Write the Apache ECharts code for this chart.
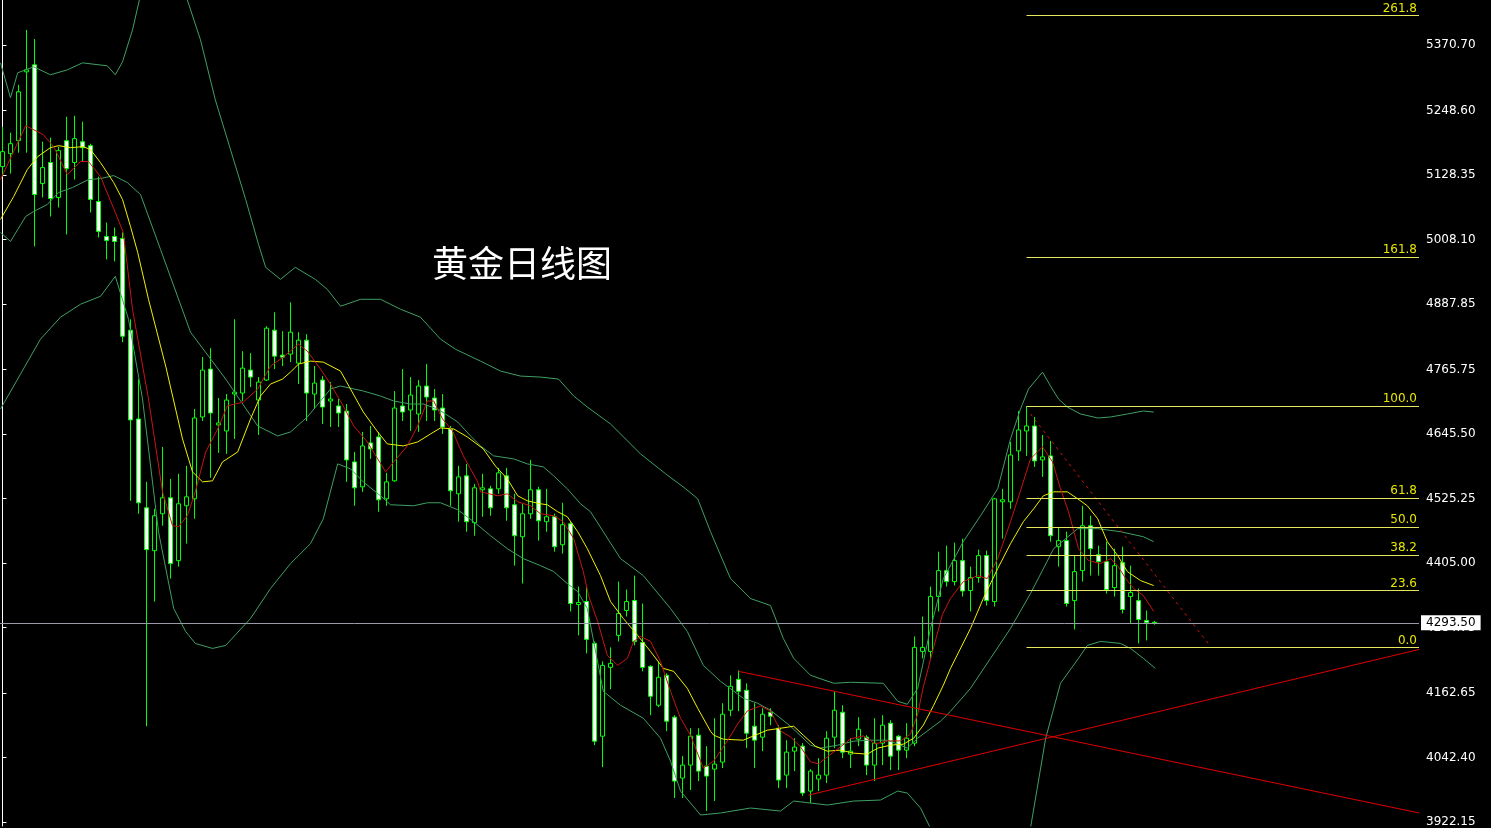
<!DOCTYPE html>
<html><head><meta charset="utf-8">
<script src="https://cdn.jsdelivr.net/npm/echarts@6/dist/echarts.min.js"></script>
<style>html,body{margin:0;padding:0;background:#000;overflow:hidden}#c{width:1491px;height:828px}</style>
</head><body><div id="c"></div>
<script>
// candles: [open, close, low, high], one per day, oldest first
const candles = [
[5143.8,5171.7,5125.2,5218.2],[5168.0,5186.6,5130.8,5207.0],[5192.2,5283.3,5169.8,5296.3],[5320.5,5324.2,5169.8,5398.6],
[5333.5,5091.7,4995.1,5381.8],[5112.2,5142.0,5086.2,5190.3],[5151.5,5084.3,5050.8,5197.8],[5086.2,5173.6,5067.6,5181.0],
[5192.2,5140.1,5017.4,5236.8],[5151.5,5196.0,5119.7,5238.7],[5190.3,5179.2,5153.3,5227.5],[5182.9,5082.5,5058.3,5186.6],
[5078.8,5023.0,5011.8,5125.2],[5013.6,5006.2,4970.9,5039.6],[5013.6,5004.3,4967.2,5030.3],[5009.9,4827.7,4816.5,5021.1],
[4838.9,4671.6,4520.9,4859.3],[4673.4,4517.2,4496.7,4747.8],[4507.9,4429.8,4100.7,4556.2],[4427.9,4493.0,4333.1,4506.0],
[4496.7,4526.5,4474.4,4621.3],[4526.5,4403.8,4375.9,4561.8],[4409.4,4515.3,4398.2,4571.1],[4511.6,4528.3,4441.0,4586.0],
[4524.6,4675.3,4487.4,4692.0],[4677.1,4764.5,4669.7,4788.7],[4766.4,4684.6,4563.7,4805.4],[4662.3,4666.0,4610.2,4712.5],
[4651.1,4708.7,4608.3,4719.9],[4719.9,4723.6,4636.2,4859.3],[4721.7,4768.2,4706.9,4799.8],[4764.5,4751.5,4732.9,4796.1],
[4708.7,4742.2,4643.6,4751.5],[4745.9,4842.6,4744.1,4846.3],[4838.9,4790.5,4766.4,4872.3],[4792.4,4788.7,4772.0,4837.0],
[4794.3,4835.2,4779.4,4890.9],[4777.5,4820.3,4738.5,4835.2],[4820.3,4721.7,4669.7,4831.5],[4719.9,4740.3,4692.0,4772.0],
[4745.9,4695.7,4664.1,4753.4],[4706.9,4710.6,4658.5,4742.2],[4697.6,4684.6,4658.5,4710.6],[4688.3,4597.1,4556.2,4701.3],
[4593.4,4545.1,4511.6,4612.0],[4546.9,4623.2,4537.6,4649.3],[4628.8,4617.6,4599.0,4660.4],[4639.9,4522.8,4500.5,4649.3],
[4524.6,4556.2,4511.6,4573.0],[4558.1,4693.8,4556.2,4725.5],[4697.6,4686.4,4669.7,4766.4],[4690.1,4718.0,4651.1,4751.5],
[4682.7,4734.8,4649.3,4745.9],[4734.8,4714.3,4669.7,4775.7],[4712.5,4690.1,4669.7,4729.2],[4693.8,4658.5,4645.5,4719.9],
[4654.8,4539.5,4511.6,4660.4],[4533.9,4565.5,4481.9,4586.0],[4567.4,4481.9,4463.3,4589.7],[4480.0,4545.1,4455.8,4552.5],
[4541.4,4545.1,4491.1,4571.1],[4543.2,4507.9,4493.0,4548.8],[4543.2,4573.0,4533.9,4582.3],[4567.4,4507.9,4483.7,4582.3],
[4513.5,4455.8,4400.0,4533.9],[4453.9,4496.7,4366.6,4515.3],[4496.7,4541.4,4487.4,4597.1],[4541.4,4483.7,4446.6,4546.9],
[4481.9,4491.1,4463.3,4543.2],[4491.1,4435.4,4426.1,4496.7],[4439.1,4476.3,4422.4,4517.2],[4478.1,4329.4,4314.6,4481.9],
[4327.6,4331.3,4270.0,4361.0],[4333.1,4262.5,4236.5,4361.0],[4255.1,4072.8,4065.4,4258.8],[4082.1,4214.1,4024.5,4221.6],
[4210.4,4217.8,4169.5,4247.6],[4270.0,4310.9,4258.8,4370.3],[4316.4,4333.1,4305.2,4355.4],[4334.9,4258.8,4251.3,4381.4],
[4256.9,4210.4,4203.0,4329.4],[4212.3,4156.5,4121.2,4214.1],[4139.8,4191.9,4136.1,4221.6],[4195.6,4110.0,4091.4,4199.3],
[4117.5,3998.4,3966.8,4121.2],[4004.0,4028.2,3966.8,4045.0],[4028.2,4082.1,3981.7,4097.0],[4084.0,4017.0,3998.4,4097.0],
[4026.3,4007.7,3942.6,4063.5],[4020.7,4030.1,3961.2,4115.6],[4033.8,4123.0,4022.6,4143.5],[4130.5,4175.1,4119.3,4195.6],
[4188.1,4165.8,4128.6,4204.8],[4167.7,4087.7,4059.8,4180.7],[4100.7,4074.7,4022.6,4143.5],[4080.3,4123.0,4054.2,4134.2],
[4126.7,4119.3,4102.6,4134.2],[4097.0,4000.3,3985.4,4102.6],[4009.6,4052.4,3985.4,4074.7],[4054.2,4061.7,4017.0,4078.4],
[4063.5,3976.1,3970.5,4069.1],[3979.8,4017.0,3957.5,4020.7],[4002.1,4009.6,3979.8,4041.2],[4009.6,4078.4,3994.7,4091.4],
[4080.3,4130.5,4059.8,4165.8],[4126.7,4052.4,4041.2,4139.8],[4048.6,4054.2,4022.6,4078.4],[4076.5,4095.1,4063.5,4117.5],
[4080.3,4028.2,4009.6,4084.0],[4028.2,4069.1,3998.4,4115.6],[4069.1,4102.6,4028.2,4121.2],[4106.3,4044.9,4018.9,4111.9],
[4082.1,4056.1,4018.9,4084.0],[4056.1,4078.4,4041.2,4106.3],[4069.1,4247.6,4063.5,4268.1],[4240.1,4247.6,4227.2,4305.2],
[4240.1,4342.4,4227.2,4361.0],[4342.4,4390.7,4314.6,4426.1],[4390.7,4370.3,4361.0,4437.2],[4370.3,4409.4,4362.9,4442.8],
[4409.4,4352.7,4342.4,4450.3],[4353.6,4377.8,4314.6,4398.2],[4377.8,4418.7,4368.4,4429.8],[4418.7,4334.9,4325.7,4428.0],
[4333.1,4524.6,4323.8,4526.5],[4519.1,4522.8,4450.3,4543.2],[4519.1,4606.4,4506.0,4630.6],[4613.9,4653.0,4595.3,4688.3],
[4651.1,4660.4,4604.6,4697.6],[4660.4,4595.3,4584.1,4677.1],[4597.1,4602.7,4565.5,4643.6],[4604.6,4455.8,4444.7,4632.5],
[4435.4,4446.6,4398.2,4470.7],[4446.6,4329.4,4323.8,4463.3],[4334.9,4388.9,4281.0,4418.7],[4390.7,4474.4,4370.3,4511.6],
[4474.4,4431.7,4381.4,4493.0],[4420.5,4407.5,4381.4,4437.2],[4407.5,4355.4,4348.0,4444.7],[4359.2,4400.0,4342.4,4431.7],
[4405.6,4318.2,4310.9,4435.4],[4342.4,4349.8,4292.2,4400.0],[4334.9,4299.6,4255.1,4357.3],[4297.8,4294.1,4260.6,4316.4],
[4294.5,4293.5,4290.0,4297.0]
];
// indicator lines: [bar index, price]
const maFast = [[-0.25,5119.7],[2.9,5220.1],[5.1,5203.4],[6.4,5181.0],[8.1,5129.0],[9.75,5153.3],[10.75,5153.3],[12.25,5125.2],[14.1,5058.3],[15.1,5021.1],[16.25,4877.9],[18.25,4710.6],[20,4537.7],[21.25,4474.4],[22,4472.6],[23.1,4493.0],[24.1,4537.7],[25.4,4612.0],[26.9,4654.8],[28.1,4697.6],[30.1,4705.0],[31.9,4729.2],[33.5,4772.0],[35.1,4788.7],[37,4812.9],[38.1,4799.8],[39.75,4766.4],[41,4738.5],[42.6,4697.6],[43.9,4660.4],[45.6,4630.6],[46.9,4599.0],[47.9,4574.8],[48.9,4593.4],[50.6,4623.2],[51.9,4660.4],[53.1,4706.9],[53.9,4706.9],[55,4673.4],[56.25,4651.1],[57.6,4604.6],[59.4,4556.2],[59.75,4537.7],[61.9,4530.2],[63.1,4533.9],[64.4,4519.1],[66,4511.6],[67.25,4496.7],[68.9,4493.0],[70.1,4481.9],[71.4,4450.3],[72.6,4388.9],[73.25,4344.3],[74.4,4295.9],[75.6,4232.7],[76.9,4214.1],[78.1,4227.2],[78.9,4258.8],[79.75,4268.1],[81,4258.8],[82.25,4221.6],[83.5,4165.8],[84.75,4115.6],[86,4084.0],[87.6,4022.6],[88.9,4035.6],[90.6,4073.3],[91.9,4104.9],[93.1,4129.1],[94.75,4138.4],[96,4129.1],[97.25,4091.9],[98.5,4080.8],[99.75,4062.2],[101,4034.3],[102,4030.6],[103.1,4043.6],[104.75,4062.2],[106,4077.1],[107.6,4082.6],[109.1,4067.8],[110.6,4073.3],[112.25,4073.3],[113.5,4086.3],[114.4,4123.5],[115.1,4173.7],[116.4,4248.1],[117.5,4309.5],[118.5,4338.7],[120.1,4370.3],[121.9,4381.4],[123.1,4375.9],[124.4,4413.1],[126,4481.9],[127.25,4539.5],[128.5,4599.0],[130,4621.3],[131.25,4593.4],[132.25,4543.2],[133.25,4500.5],[134.5,4431.7],[135.75,4409.4],[137.25,4403.8],[138.5,4413.1],[139.4,4400.0],[140.4,4375.9],[141.4,4357.3],[142.6,4344.3],[143.9,4314.6]];
const maSlow = [[-0.25,5045.3],[1.4,5088.1],[3.1,5138.3],[4.4,5162.5],[6,5179.2],[7,5182.9],[8.5,5179.2],[10.1,5181.0],[11,5175.5],[12.25,5151.3],[13.9,5114.1],[15,5082.5],[16,5032.3],[16.9,4983.9],[18.25,4896.5],[20.4,4771.9],[22.5,4636.2],[23.75,4574.8],[25,4556.2],[26.25,4558.1],[27.5,4593.4],[29.4,4612.0],[31,4673.4],[32.25,4716.2],[33.5,4738.5],[35,4747.8],[36,4760.8],[37,4775.7],[38.5,4781.3],[40.1,4779.4],[42.25,4762.7],[43.5,4729.2],[45.1,4686.4],[46.9,4649.3],[48.1,4626.9],[50.1,4623.2],[51.9,4630.6],[53.5,4645.5],[54.75,4656.7],[56.4,4654.8],[58.1,4640.0],[60.1,4617.6],[61.6,4586.0],[63.1,4561.8],[64.4,4530.2],[65.6,4520.9],[67.25,4515.3],[68.1,4513.5],[69.4,4500.5],[70.6,4491.1],[71.9,4463.3],[73.1,4431.7],[74.75,4381.4],[76,4333.1],[77.6,4301.5],[79.4,4269.9],[81,4240.1],[82.6,4208.6],[83.9,4202.9],[85.6,4171.3],[86.9,4134.2],[88.5,4091.4],[88.9,4084.0],[90.1,4076.5],[92.6,4074.7],[94.1,4084.0],[95.6,4093.3],[97.25,4096.9],[98.9,4100.7],[100.1,4084.0],[101.6,4063.5],[103.1,4054.2],[104.75,4056.1],[106.4,4050.5],[108.1,4048.6],[109.4,4059.8],[111,4065.4],[112.6,4067.2],[113.9,4078.4],[115.1,4102.6],[116.4,4139.8],[117.6,4177.0],[118.5,4208.5],[121,4282.9],[122.6,4338.7],[124.4,4394.5],[126,4440.9],[127.6,4481.9],[128.9,4506.0],[130.1,4530.2],[131.4,4537.6],[133.1,4537.6],[134.4,4524.6],[135.6,4511.6],[136.9,4487.4],[138.1,4444.7],[139.4,4418.7],[140.6,4389.0],[142.25,4372.2],[143.9,4362.9]];
const bbUpper = [[-0.25,5337.2],[1,5272.2],[1.9,5318.7],[3.9,5329.8],[6,5315.0],[8.1,5324.2],[10,5337.2],[13.1,5331.7],[14.1,5315.0],[15,5339.1],[16.25,5398.6],[17.25,5463.7],[19.75,5528.8],[22.9,5463.7],[24.75,5380.0],[26.6,5268.4],[28.5,5175.5],[30.4,5082.5],[32,4998.8],[32.9,4956.0],[34.75,4933.7],[36.6,4956.0],[39.1,4933.7],[40.6,4915.1],[42.25,4883.5],[44.75,4896.5],[47.25,4896.5],[49.75,4878.0],[52.25,4863.1],[54.75,4822.2],[56.6,4803.6],[59.75,4781.3],[62.25,4762.7],[64.75,4753.4],[67.25,4751.5],[69.5,4747.8],[71.4,4716.2],[73.1,4695.7],[76,4664.1],[79.75,4608.3],[82.9,4571.1],[85.4,4543.2],[86.9,4524.6],[88.5,4463.3],[91,4375.9],[93.5,4338.7],[96,4325.7],[97.6,4264.3],[98.9,4227.2],[101,4195.6],[103.9,4180.7],[106,4182.6],[110.1,4180.7],[111.9,4147.2],[113.1,4141.6],[114.4,4171.3],[116,4282.9],[117.6,4375.9],[120.1,4444.7],[122.25,4493.0],[124.4,4543.2],[126,4636.2],[127.25,4692.0],[128.25,4729.2],[130,4760.8],[131,4734.8],[132,4710.6],[133.1,4695.7],[134.75,4682.7],[136.9,4675.3],[138.5,4677.1],[140.6,4682.7],[142.6,4688.3],[143.9,4686.4]];
const bbMid = [[-0.25,5021.1],[1,5004.4],[2.9,5050.9],[3.9,5060.2],[5.6,5073.2],[7,5095.5],[8.75,5104.8],[10.75,5119.7],[12.25,5121.5],[13.9,5127.1],[15.6,5114.1],[17.25,5091.8],[19.75,4989.5],[23.5,4835.2],[27.9,4747.8],[31.9,4660.4],[34.4,4641.8],[36,4649.2],[38.1,4677.1],[41,4729.2],[42.25,4734.8],[45.1,4725.5],[47.25,4716.2],[48.9,4706.9],[51,4701.3],[52.6,4701.3],[54.4,4692.0],[56.9,4667.8],[58.5,4641.8],[59.75,4623.2],[61.4,4604.6],[63.9,4599.0],[65.6,4589.7],[67.6,4584.1],[68.9,4567.4],[70.6,4543.2],[72.25,4515.3],[73.5,4500.5],[77.25,4413.1],[80.1,4381.4],[83.5,4320.1],[85.6,4277.3],[87.6,4214.1],[89.75,4184.4],[92.6,4152.8],[94.4,4143.5],[96,4130.5],[98.5,4100.7],[101,4065.4],[102.25,4059.8],[104.4,4065.4],[106.4,4072.8],[108.5,4074.7],[110.6,4074.7],[112.25,4065.4],[113.1,4059.8],[114.4,4078.4],[117.25,4110.0],[118.5,4128.6],[121,4171.3],[123.5,4227.2],[126,4282.9],[128.5,4348.0],[131.4,4431.7],[134.4,4468.9],[136.9,4468.9],[139.75,4463.3],[142.6,4453.9],[143.9,4444.7]];
const bbLower = [[-0.25,4692.0],[2.25,4757.1],[4.75,4822.2],[7.25,4863.1],[9.75,4887.3],[12.25,4902.1],[14.1,4939.3],[15.75,4859.3],[17.5,4710.6],[19.5,4463.3],[21.4,4320.1],[22.9,4277.3],[24.1,4255.0],[26.25,4245.7],[27.9,4251.3],[31,4301.5],[33.5,4357.3],[36,4403.8],[38.5,4441.0],[40.1,4487.4],[41.9,4589.7],[43.5,4580.4],[45.1,4556.2],[47.25,4530.2],[48.5,4513.5],[51.4,4511.6],[53.1,4517.2],[54.75,4517.2],[56.9,4504.2],[58.9,4481.9],[61,4455.8],[63.1,4431.7],[65.1,4413.1],[67.25,4400.0],[68.9,4388.9],[70.6,4366.6],[71.9,4351.7],[73.1,4320.1],[75.1,4165.8],[77.25,4139.8],[80.1,4115.6],[82.25,4078.4],[83.5,4035.6],[84.75,3979.8],[87.25,3935.2],[89.75,3938.9],[93.5,3948.2],[97.25,3942.6],[98.9,3961.2],[103.1,3953.8],[106.4,3961.2],[109.75,3963.1],[111.9,3979.8],[113.1,3976.1],[114.75,3948.2],[116.6,3892.4],[119.75,3818.0],[124.75,3818.0],[128.5,3911.0],[130.4,4078.4],[132.25,4180.7],[134.5,4227.2],[135.6,4251.3],[137.25,4258.8],[139.75,4255.0],[141,4245.7],[142.6,4227.2],[144.1,4208.6]];
// red trend lines and dotted resistance line: [bar index, price]
const trendDown = [[92,4203.0],[177.1,3938.9]];
const trendUp = [[100.75,3972.3],[177.1,4243.9]];
const trendDash = [[128.5,4682.7],[151,4249.4]];
// Fibonacci retracement
const fibLow = 4247.5, fibHigh = 4697.5, fibStart = 128;
const fibLevels = [0, 23.6, 38.2, 50, 61.8, 100, 161.8, 261.8];
// price axis
const yTickLabels = [5370.70, 5248.60, 5128.35, 5008.10, 4887.85, 4765.75, 4645.50, 4525.25, 4405.00, 4284.75, 4162.65, 4042.40, 3922.15];
const lastPrice = 4293.50;
const chartTitle = '黄金日线图';

const X_MIN = -0.3125, X_MAX = 177.0625;
const chart = echarts.init(document.getElementById('c'));
const font = 'DejaVu Sans, Tahoma, sans-serif';
function lineSeries(data, color, extra) {
  return Object.assign({type: 'line', data, symbol: 'none', silent: true, animation: false,
    lineStyle: {color, width: 1}, z: 3}, extra || {});
}
const fibMarks = fibLevels.map(l => {
  const v = fibLow + (fibHigh - fibLow) * l / 100;
  return [{coord: [fibStart, v], lineStyle: {color: '#e6e65a', width: 1, type: 'solid'},
           label: {show: true, position: 'insideEndTop', color: '#e6e600', fontSize: 12, fontFamily: font, distance: [2, 1], formatter: l.toFixed(1)}},
          {coord: [X_MAX, v]}];
});
const priceMark = [{coord: [X_MIN, lastPrice], lineStyle: {color: '#9a9aa8', width: 1, type: 'solid'},
  label: {show: true, position: 'end', formatter: lastPrice.toFixed(2), color: '#000', backgroundColor: '#fff',
    fontSize: 12, fontFamily: font, padding: [2, 5, 1, 5], distance: 2}}, {coord: [X_MAX, lastPrice]}];
chart.setOption({
  backgroundColor: '#000',
  animation: false,
  graphic: [{type: 'text', left: 432, top: 245, style: {text: chartTitle, fill: '#fff', font: '36px "Noto Sans CJK SC", sans-serif'}}],
  grid: {left: 0, right: 72, top: 0, bottom: 0},
  xAxis: {type: 'value', min: X_MIN, max: X_MAX, show: false},
  yAxis: {type: 'value', position: 'right', min: 3914.7, max: 5454.4, scale: true, z: 1,
    axisLine: {show: true, lineStyle: {color: '#fff', width: 1}},
    axisTick: {show: true, length: 4, lineStyle: {color: '#fff'}, customValues: yTickLabels},
    axisLabel: {color: '#fff', fontSize: 12, fontFamily: font, margin: 7, customValues: yTickLabels,
      formatter: v => v.toFixed(2)},
    splitLine: {show: false}},
  series: [
    {type: 'candlestick', data: candles.map((c, i) => [i, c[0], c[1], c[2], c[3]]),
     encode: {x: 0, y: [1, 2, 3, 4]}, barWidth: 5, z: 2,
     itemStyle: {color: '#000', color0: '#fff', borderColor: '#00ff00', borderColor0: '#00ff00', borderColorDoji: '#00ff00', borderWidth: 1},
     markLine: {symbol: 'none', silent: true, animation: false, z: 5, data: fibMarks.concat([priceMark])}},
    lineSeries(bbUpper, '#3f9f63'),
    lineSeries(bbMid, '#3f9f63'),
    lineSeries(bbLower, '#3f9f63'),
    lineSeries(maSlow, '#f0f000'),
    lineSeries(maFast, '#c81414'),
    lineSeries(trendDown, '#e00000'),
    lineSeries(trendUp, '#e00000'),
    lineSeries(trendDash, '#d01010', {lineStyle: {color: '#d01010', width: 1, type: [3, 4]}})
  ]
});
</script></body></html>
